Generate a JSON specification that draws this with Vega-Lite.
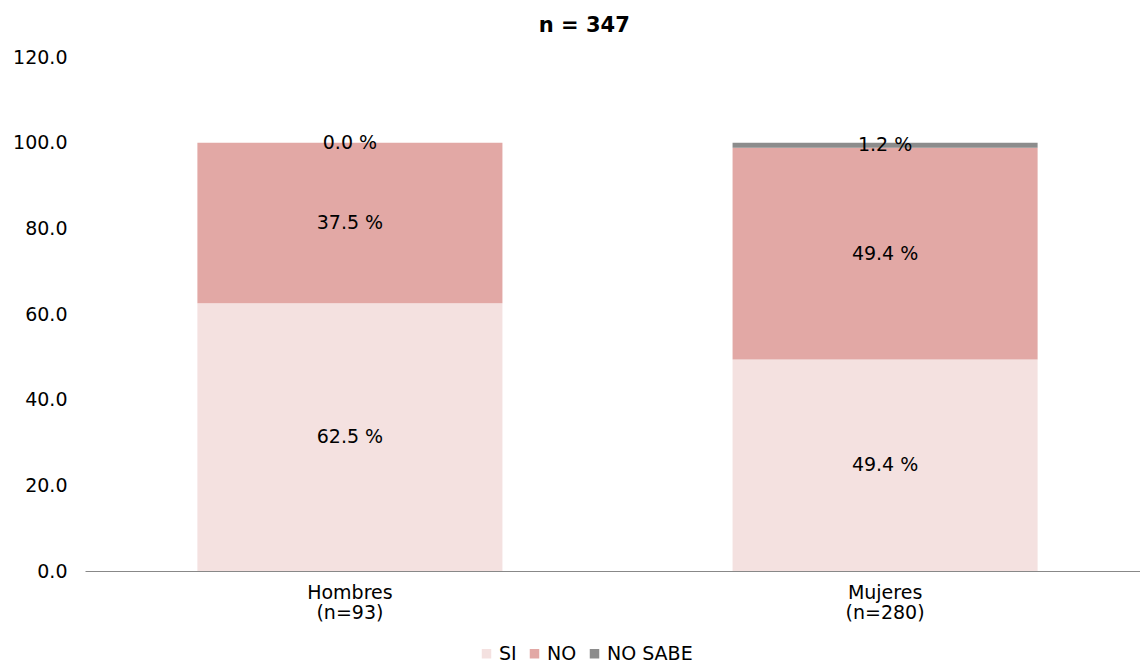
{
  "$schema": "https://vega.github.io/schema/vega-lite/v6.json",
  "width": 1065,
  "height": 514,
  "autosize": {"type": "none"},
  "padding": {"left": 85, "top": 57, "right": 0, "bottom": 96},
  "background": "white",
  "config": {"view": {"stroke": null}, "font": "DejaVu Sans"},
  "title": {"text": "n = 347", "fontSize": 21, "fontWeight": "bold", "font": "DejaVu Sans", "color": "#000000", "anchor": "middle", "frame": "bounds", "offset": 12, "dx": 3},
  "data": {"values": [
    {"grupo": "Hombres|(n=93)", "respuesta": "SI", "orden": 1, "pct": 62.5},
    {"grupo": "Hombres|(n=93)", "respuesta": "NO", "orden": 2, "pct": 37.5},
    {"grupo": "Hombres|(n=93)", "respuesta": "NO SABE", "orden": 3, "pct": 0.0},
    {"grupo": "Mujeres|(n=280)", "respuesta": "SI", "orden": 1, "pct": 49.4},
    {"grupo": "Mujeres|(n=280)", "respuesta": "NO", "orden": 2, "pct": 49.4},
    {"grupo": "Mujeres|(n=280)", "respuesta": "NO SABE", "orden": 3, "pct": 1.2}
  ]},
  "transform": [
    {"stack": "pct", "groupby": ["grupo"], "sort": [{"field": "orden"}], "as": ["y0", "y1"]},
    {"calculate": "(datum.y0 + datum.y1) / 2", "as": "ymid"},
    {"calculate": "format(datum.pct, '.1f') + ' %'", "as": "etiqueta"}
  ],
  "encoding": {
    "x": {"field": "grupo", "type": "nominal", "sort": null,
      "scale": {"paddingInner": 0.43, "paddingOuter": 0.21},
      "axis": {"title": null, "labelAngle": 0, "labelExpr": "split(datum.label, '|')", "labelFontSize": 19, "labelColor": "#000000", "labelFont": "DejaVu Sans", "labelLineHeight": 20, "domainColor": "#888888", "ticks": false, "labelPadding": 12}}
  },
  "layer": [
    {
      "mark": {"type": "bar"},
      "encoding": {
        "y": {"field": "y0", "type": "quantitative", "scale": {"domain": [0, 120]},
          "axis": {"title": null, "values": [0, 20, 40, 60, 80, 100, 120], "format": ".1f", "grid": false, "domain": false, "ticks": false, "labelFontSize": 19, "labelColor": "#000000", "labelFont": "DejaVu Sans", "labelPadding": 18}},
        "y2": {"field": "y1"},
        "color": {"field": "respuesta", "type": "nominal",
          "scale": {"domain": ["SI", "NO", "NO SABE"], "range": ["#f4e1e0", "#e2a8a5", "#8c8c8c"]},
          "legend": {"title": null, "orient": "none", "legendX": 392, "legendY": 587, "direction": "horizontal", "symbolType": "square", "symbolSize": 90, "labelFontSize": 19, "labelFont": "DejaVu Sans", "labelColor": "#000000", "columnPadding": 8, "labelOffset": 3, "symbolStrokeWidth": 0}
        }
      }
    },
    {
      "mark": {"type": "text", "fontSize": 19, "font": "DejaVu Sans", "color": "#000000"},
      "encoding": {
        "y": {"field": "ymid", "type": "quantitative"},
        "text": {"field": "etiqueta"}
      }
    }
  ]
}
